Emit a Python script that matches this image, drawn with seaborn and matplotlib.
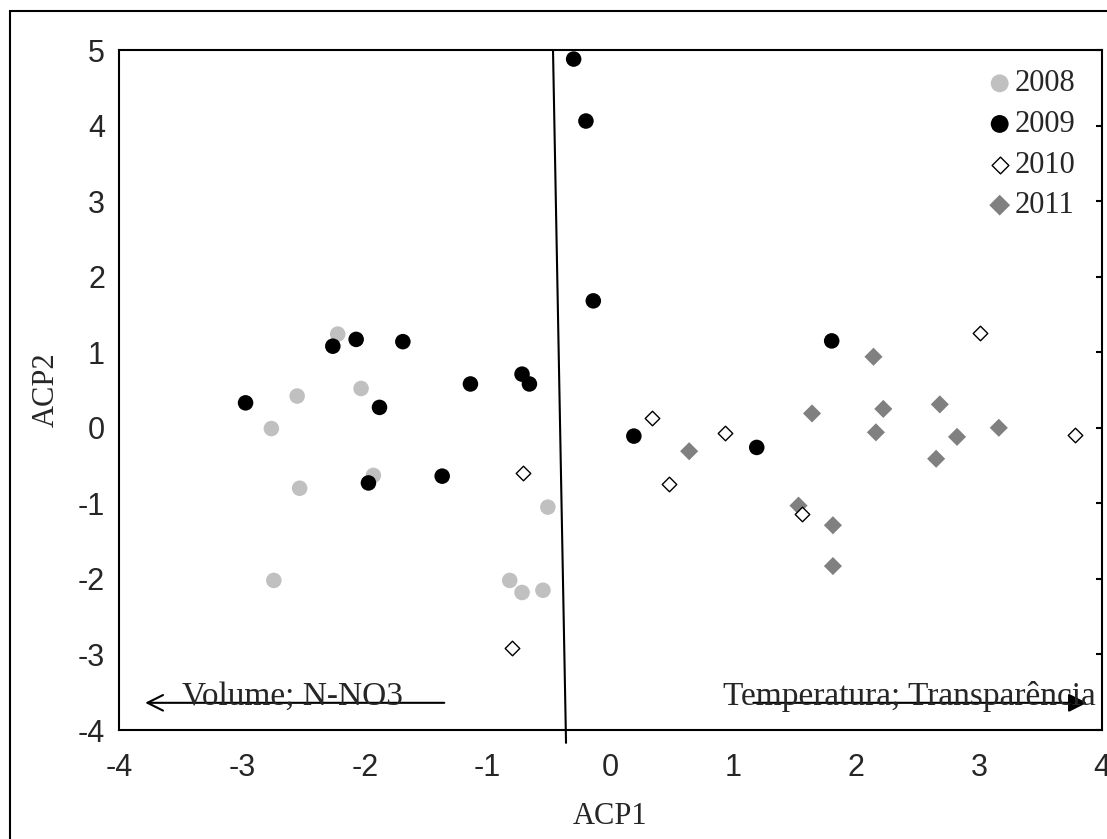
import matplotlib
matplotlib.use("Agg")
import matplotlib.pyplot as plt
import matplotlib.patches as patches
import seaborn as sns
import pandas as pd

sns.set_style("white")
plt.rcParams['font.family'] = ['Liberation Serif', 'DejaVu Serif']
plt.rcParams['axes.unicode_minus'] = False

# PCA scores
x_2008 = [-2.22, -2.03, -2.55, -2.76, -1.93, -2.53, -0.51, -2.74, -0.82, -0.72, -0.55]
y_2008 = [1.24, 0.52, 0.42, -0.01, -0.63, -0.80, -1.05, -2.02, -2.02, -2.18, -2.15]

x_2009 = [-2.26, -2.07, -1.69, -2.97, -1.88, -1.97, -1.14, -0.72, -0.66, -1.37,
          0.19, -0.14, -0.30, -0.20, 1.19, 1.80]
y_2009 = [1.08, 1.17, 1.14, 0.33, 0.27, -0.73, 0.58, 0.71, 0.58, -0.64,
          -0.11, 1.68, 4.88, 4.06, -0.26, 1.15]

x_2010 = [-0.71, 0.34, 0.48, 0.93, 1.56, 3.01, 3.78, -0.80]
y_2010 = [-0.60, 0.13, -0.75, -0.07, -1.14, 1.25, -0.09, -2.92]

x_2011 = [0.64, 1.64, 1.53, 1.81, 2.14, 2.22, 2.16, 2.68, 2.82, 2.65, 3.16, 1.81]
y_2011 = [-0.31, 0.19, -1.03, -1.29, 0.94, 0.25, -0.06, 0.31, -0.12, -0.41, 0.00, -1.83]

# separating line and variable arrows
sep_x = [-0.468, -0.362]
sep_y = [5.0, -4.17]
arrow_y = -3.64
left_arrow = (-1.33, -3.81)
right_arrow = (1.14, 3.90)

fig = plt.figure(figsize=(11.07, 8.39), dpi=100)
ax = fig.add_axes([0.1075, 0.1299, 0.888, 0.8105])

series = [
    ("2008", x_2008, y_2008, dict(marker="o", color="#c0c0c0", edgecolor="none", s=125), 3),
    ("2009", x_2009, y_2009, dict(marker="o", color="black", edgecolor="none", s=125), 4),
    ("2010", x_2010, y_2010, dict(marker="D", color="white", edgecolor="black", linewidth=1.0, s=55), 5),
    ("2011", x_2011, y_2011, dict(marker="D", color="#808080", edgecolor="none", s=85), 3),
]
for name, xs, ys, kw, z in series:
    df = pd.DataFrame({"ACP1": xs, "ACP2": ys})
    sns.scatterplot(data=df, x="ACP1", y="ACP2", ax=ax, label=name, zorder=z, **kw)

ax.plot(sep_x, sep_y, color="black", lw=1.5, clip_on=False, zorder=2)

ax.annotate("", xy=(left_arrow[1], arrow_y), xytext=(left_arrow[0], arrow_y),
            arrowprops=dict(arrowstyle="->", color="black", lw=1.5, mutation_scale=28))
ax.annotate("", xy=(right_arrow[1], arrow_y), xytext=(right_arrow[0], arrow_y),
            arrowprops=dict(arrowstyle="-|>", color="black", lw=1.5, mutation_scale=28))
ax.text(-3.49, -3.67, "Volume; N-NO3", fontsize=24, va="baseline", ha="left")
ax.text(3.95, -3.67, "Temperatura; Transparência", fontsize=24, va="baseline", ha="right")

ax.set_xlim(-4, 4)
ax.set_ylim(-4, 5)
ax.set_xticks(range(-4, 5))
ax.set_yticks(range(-4, 6))
ax.set_xlabel("ACP1", fontsize=22, labelpad=14)
ax.set_ylabel("ACP2", fontsize=22, labelpad=12)
for lab in ax.get_xticklabels() + ax.get_yticklabels():
    lab.set_family("Liberation Sans")
    lab.set_fontsize(22)
ax.tick_params(axis="x", bottom=False, pad=13)
ax.tick_params(axis="y", left=False, right=True, direction="in", length=4, width=1.5, pad=10,
               labelright=False, labelleft=True, color="black")
for sp in ax.spines.values():
    sp.set_color("black")
    sp.set_linewidth(1.5)

ax.legend(loc="upper right", bbox_to_anchor=(0.995, 1.003), frameon=False, fontsize=22,
          handletextpad=0.0, labelspacing=0.38, borderaxespad=0.3, handlelength=1.0,
          markerscale=1.15)

# outer frame around the chart
fig.patches.append(patches.Rectangle((0.009, -0.1), 1.2, 1.087, transform=fig.transFigure,
                                     fill=False, edgecolor="black", lw=1.5))

fig.savefig("out.png", dpi=100)
